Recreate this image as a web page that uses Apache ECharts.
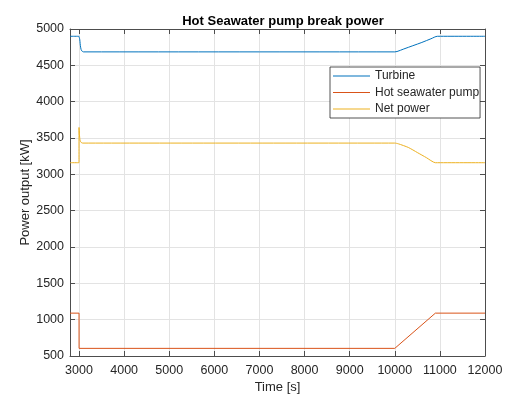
<!DOCTYPE html>
<html>
<head>
<meta charset="utf-8">
<script src="https://cdn.jsdelivr.net/npm/echarts@6/dist/echarts.min.js"></script>
<style>
  html, body { margin: 0; padding: 0; background: #fff; }
  #chart { width: 510px; height: 399px; }
</style>
</head>
<body>
<div id="chart"></div>
<script>
// Time stamps [s] and power values [kW] for each signal
const turbineTime  = [2800, 2995, 3005, 3015, 3025, 3035, 3045, 3060, 3080, 3100, 10000, 10050, 10200, 10400, 10600, 10800, 10950, 12000];
const turbinePower = [4900, 4900, 4895, 4860, 4800, 4750, 4720, 4700, 4690, 4685, 4685, 4690, 4725, 4770, 4815, 4865, 4900, 4900];

const pumpTime  = [2800, 3000, 3001, 10000, 10900, 12000];
const pumpPower = [1090, 1090, 605, 605, 1090, 1090];

const netTime  = [2800, 2999, 3000, 3010, 3020, 3035, 3050, 3080, 10000, 10080, 10300, 10500, 10700, 10900, 12000];
const netPower = [3160, 3160, 3645, 3540, 3480, 3450, 3438, 3430, 3430, 3420, 3370, 3300, 3230, 3160, 3160];

const seriesNames = ['Turbine', 'Hot seawater pump', 'Net power'];
const seriesColors = ['#0072BD', '#D95319', '#EDB120'];

const xTicks = [3000, 4000, 5000, 6000, 7000, 8000, 9000, 10000, 11000, 12000];

function pairs(t, v) {
  return t.map((x, i) => [x, v[i]]);
}

const textColor = '#262626';
const axisColor = '#4d4d4d';
const gridColor = '#e3e3e3';
const fontFamily = '"Liberation Sans", Arial, Helvetica, sans-serif';
const plain = v => String(v);

const chart = echarts.init(document.getElementById('chart'), null, { renderer: 'canvas' });

const baseX = {
  type: 'value',
  min: 2800,
  max: 12000,
  axisLine: { show: true, onZero: false, lineStyle: { color: axisColor, width: 1 } },
  axisTick: { show: true, inside: true, length: 5, customValues: xTicks, lineStyle: { color: axisColor } },
};
const baseY = {
  type: 'value',
  min: 500,
  max: 5000,
  interval: 500,
  axisLine: { show: true, onZero: false, lineStyle: { color: axisColor, width: 1 } },
  axisTick: { show: true, inside: true, length: 5, lineStyle: { color: axisColor } },
};

chart.setOption({
  animation: false,
  backgroundColor: '#ffffff',
  textStyle: { fontFamily: fontFamily },
  title: {
    text: 'Hot Seawater pump break power',
    left: 278,
    textAlign: 'center',
    top: 10,
    textStyle: { fontSize: 13, fontWeight: 'bold', color: '#000', fontFamily: fontFamily }
  },
  grid: { left: 70, right: 25, top: 29, bottom: 42, containLabel: false },
  legend: {
    orient: 'vertical',
    left: 330,
    top: 67,
    data: seriesNames,
    icon: 'rect',
    itemWidth: 37,
    itemHeight: 1,
    itemGap: 2.5,
    padding: [2, 1, 2, 3],
    backgroundColor: '#fff',
    borderColor: '#262626',
    borderWidth: 0.8,
    borderRadius: 0,
    textStyle: { fontSize: 12, lineHeight: 14, color: textColor, fontFamily: fontFamily }
  },
  xAxis: [
    Object.assign({}, baseX, {
      position: 'bottom',
      name: 'Time [s]',
      nameLocation: 'middle',
      nameGap: 25,
      nameMoveOverlap: false,
      nameTextStyle: { fontSize: 13, color: textColor, fontFamily: fontFamily },
      axisLabel: { show: true, customValues: xTicks, formatter: plain, fontSize: 12.5, color: textColor, margin: 8, fontFamily: fontFamily },
      splitLine: { show: true, lineStyle: { color: gridColor, width: 1 } }
    }),
    Object.assign({}, baseX, {
      position: 'top',
      axisLabel: { show: false },
      splitLine: { show: false }
    })
  ],
  yAxis: [
    Object.assign({}, baseY, {
      position: 'left',
      name: 'Power output [kW]',
      nameLocation: 'middle',
      nameGap: 38,
      nameMoveOverlap: false,
      nameTextStyle: { fontSize: 13, color: textColor, fontFamily: fontFamily },
      axisLabel: { show: true, formatter: plain, fontSize: 12.5, color: textColor, margin: 6, fontFamily: fontFamily },
      splitLine: { show: true, lineStyle: { color: gridColor, width: 1 } }
    }),
    Object.assign({}, baseY, {
      position: 'right',
      axisLabel: { show: false },
      splitLine: { show: false }
    })
  ],
  series: [
    { name: seriesNames[0], type: 'line', data: pairs(turbineTime, turbinePower), smooth: 0.3 },
    { name: seriesNames[1], type: 'line', data: pairs(pumpTime, pumpPower) },
    { name: seriesNames[2], type: 'line', data: pairs(netTime, netPower), smooth: 0.2 }
  ].map((s, i) => Object.assign(s, {
    xAxisIndex: 0,
    yAxisIndex: 0,
    symbol: 'none',
    showSymbol: false,
    color: seriesColors[i],
    lineStyle: { color: seriesColors[i], width: 1 },
    emphasis: { disabled: true }
  }))
});
</script>
</body>
</html>
